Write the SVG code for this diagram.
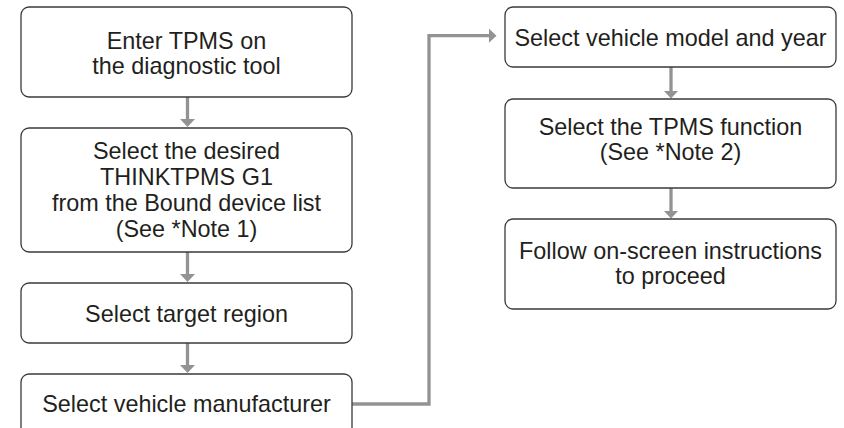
<svg xmlns="http://www.w3.org/2000/svg" width="844" height="428" viewBox="0 0 844 428">
  <defs>
    <style>
      .box { fill: #ffffff; stroke: #3a3a3a; stroke-width: 1.3; }
      .lbl { font-family: "Liberation Sans", Arial, sans-serif; font-size: 23.4px; fill: #231f20; text-anchor: middle; }
      .conn { fill: none; stroke: #939393; stroke-width: 3.3; marker-end: url(#ah); }
    </style>
    <marker id="ah" viewBox="0 0 8 15" refX="0.5" refY="7.5" markerWidth="8" markerHeight="15" markerUnits="userSpaceOnUse" orient="auto">
      <path d="M0,0 L8,7.5 L0,15 Z" fill="#939393"/>
    </marker>
  </defs>
  <rect width="844" height="428" fill="#ffffff"/>

  <g id="connectors">
    <path class="conn" d="M187.5,97 V119.5"/>
    <path class="conn" d="M187.5,252 V274.5"/>
    <path class="conn" d="M187.5,343 V365.5"/>
    <path class="conn" d="M352,404 H429 V35.7 H489"/>
    <path class="conn" d="M671,67 V91"/>
    <path class="conn" d="M671,188 V211"/>
  </g>

  <g id="n1">
    <rect class="box" x="21" y="7" width="331" height="90" rx="8"/>
    <text class="lbl" x="186.5" y="49">Enter TPMS on</text>
    <text class="lbl" x="186.5" y="74">the diagnostic tool</text>
  </g>
  <g id="n2">
    <rect class="box" x="21" y="128" width="331" height="124" rx="8"/>
    <text class="lbl" x="186.5" y="159">Select the desired</text>
    <text class="lbl" x="186.5" y="185">THINKTPMS G1</text>
    <text class="lbl" x="186.5" y="211">from the Bound device list</text>
    <text class="lbl" x="186.5" y="237">(See *Note 1)</text>
  </g>
  <g id="n3">
    <rect class="box" x="21" y="283" width="331" height="60" rx="8"/>
    <text class="lbl" x="186.5" y="322">Select target region</text>
  </g>
  <g id="n4">
    <rect class="box" x="21" y="374" width="331" height="64" rx="8"/>
    <text class="lbl" x="186.5" y="412">Select vehicle manufacturer</text>
  </g>
  <g id="n5">
    <rect class="box" x="505" y="7" width="331" height="60" rx="8"/>
    <text class="lbl" x="670.5" y="46">Select vehicle model and year</text>
  </g>
  <g id="n6">
    <rect class="box" x="505" y="99" width="331" height="89" rx="8"/>
    <text class="lbl" x="670.5" y="135">Select the TPMS function</text>
    <text class="lbl" x="670.5" y="160">(See *Note 2)</text>
  </g>
  <g id="n7">
    <rect class="box" x="505" y="219" width="331" height="90" rx="8"/>
    <text class="lbl" x="670.5" y="259">Follow on-screen instructions</text>
    <text class="lbl" x="670.5" y="284">to proceed</text>
  </g>
</svg>
